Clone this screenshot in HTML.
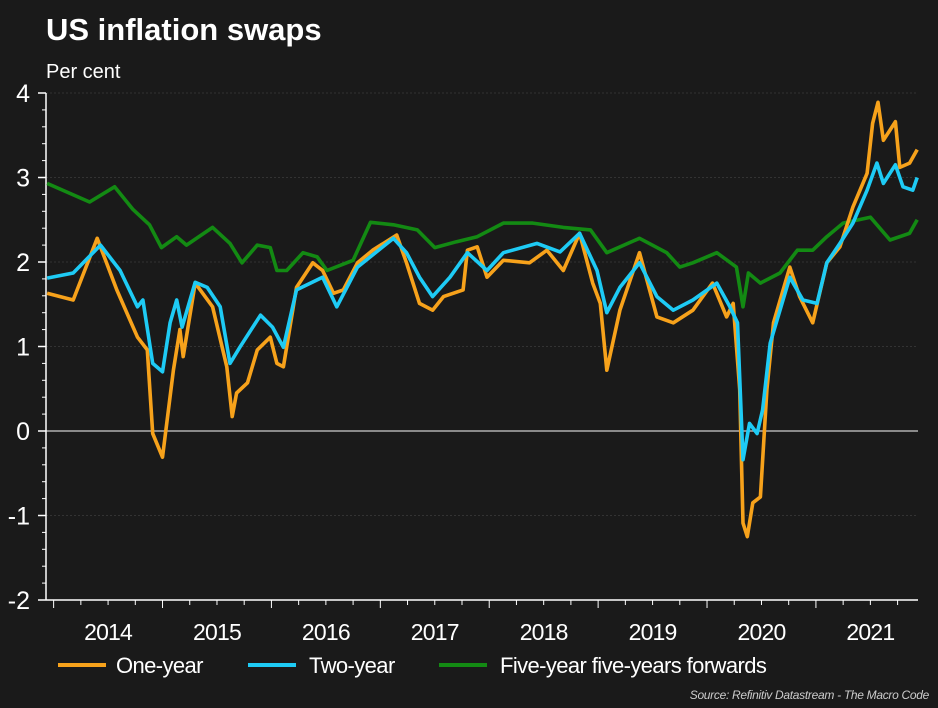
<!DOCTYPE html>
<html><head><meta charset="utf-8">
<style>
html,body{margin:0;padding:0;background:#1a1a1a;}
svg{display:block;font-family:"Liberation Sans",sans-serif;}
</style></head>
<body>
<svg id="chart" width="938" height="708" viewBox="0 0 938 708">
<rect x="0" y="0" width="938" height="708" fill="#1a1a1a"/>
<text x="46" y="40" fill="#fff" font-size="31" font-weight="bold">US inflation swaps</text>
<text x="46" y="78" fill="#fff" font-size="20">Per cent</text>
<g id="grid"></g><g id="axes"></g><g id="series"></g>
<g>
<line x1="58" y1="665" x2="106" y2="665" stroke="#f7a21b" stroke-width="4"/>
<text x="116" y="673" fill="#fff" font-size="22" letter-spacing="-0.6">One-year</text>
<line x1="248" y1="665" x2="296" y2="665" stroke="#1ecbf5" stroke-width="4"/>
<text x="309" y="673" fill="#fff" font-size="22" letter-spacing="-0.6">Two-year</text>
<line x1="439" y1="665" x2="487" y2="665" stroke="#138a13" stroke-width="4"/>
<text x="500" y="673" fill="#fff" font-size="22" letter-spacing="-0.6">Five-year five-years forwards</text>
</g>
<text x="929" y="699" fill="#ccc" font-size="12" font-style="italic" text-anchor="end" letter-spacing="-0.3">Source: Refinitiv Datastream - The Macro Code</text>
</svg>
<script>
const oneYearDates=[2013.94,2014.18,2014.40,2014.58,2014.77,2014.86,2014.91,2015.00,2015.10,2015.16,2015.19,2015.30,2015.46,2015.59,2015.64,2015.68,2015.78,2015.87,2015.99,2016.05,2016.11,2016.23,2016.38,2016.47,2016.57,2016.66,2016.79,2016.93,2017.15,2017.24,2017.36,2017.48,2017.58,2017.76,2017.80,2017.89,2017.98,2018.13,2018.37,2018.53,2018.68,2018.83,2018.95,2019.02,2019.08,2019.20,2019.38,2019.54,2019.69,2019.87,2020.05,2020.18,2020.24,2020.30,2020.33,2020.37,2020.42,2020.49,2020.55,2020.61,2020.76,2020.85,2020.97,2021.10,2021.22,2021.34,2021.47,2021.52,2021.57,2021.62,2021.73,2021.77,2021.86,2021.93];
const oneYearValues=[1.63,1.55,2.28,1.67,1.11,0.96,-0.03,-0.31,0.72,1.2,0.88,1.75,1.47,0.76,0.17,0.45,0.57,0.96,1.11,0.8,0.76,1.7,1.99,1.9,1.63,1.67,1.99,2.14,2.32,1.99,1.51,1.43,1.59,1.67,2.14,2.18,1.82,2.02,1.99,2.14,1.9,2.34,1.75,1.51,0.72,1.43,2.11,1.35,1.28,1.43,1.75,1.35,1.51,0.49,-1.09,-1.25,-0.85,-0.78,0.49,1.28,1.94,1.59,1.28,1.99,2.18,2.65,3.05,3.64,3.89,3.44,3.66,3.12,3.17,3.33];
const twoYearDates=[2013.94,2014.18,2014.43,2014.61,2014.77,2014.82,2014.91,2015.00,2015.07,2015.13,2015.18,2015.30,2015.41,2015.53,2015.62,2015.71,2015.90,2016.01,2016.11,2016.23,2016.47,2016.60,2016.79,2017.12,2017.24,2017.36,2017.48,2017.64,2017.80,2017.98,2018.13,2018.44,2018.65,2018.83,2018.99,2019.08,2019.20,2019.38,2019.54,2019.69,2019.87,2020.09,2020.21,2020.28,2020.33,2020.39,2020.46,2020.51,2020.58,2020.76,2020.88,2021.01,2021.10,2021.22,2021.34,2021.47,2021.56,2021.62,2021.73,2021.80,2021.89,2021.93];
const twoYearValues=[1.81,1.87,2.2,1.9,1.47,1.55,0.8,0.7,1.28,1.55,1.23,1.76,1.7,1.47,0.8,0.99,1.37,1.23,0.99,1.67,1.82,1.47,1.94,2.28,2.11,1.82,1.59,1.82,2.11,1.9,2.11,2.22,2.12,2.34,1.9,1.4,1.7,1.99,1.59,1.43,1.55,1.75,1.47,1.28,-0.34,0.09,-0.03,0.25,1.04,1.82,1.55,1.51,1.99,2.22,2.46,2.85,3.17,2.93,3.15,2.89,2.85,3.0];
const fwdDates=[2013.94,2014.33,2014.56,2014.73,2014.88,2014.99,2015.13,2015.22,2015.46,2015.62,2015.73,2015.87,2015.99,2016.05,2016.14,2016.29,2016.42,2016.51,2016.75,2016.91,2017.12,2017.34,2017.50,2017.70,2017.89,2018.13,2018.40,2018.68,2018.93,2019.08,2019.38,2019.63,2019.75,2019.87,2020.09,2020.27,2020.33,2020.38,2020.49,2020.67,2020.83,2020.97,2021.10,2021.25,2021.50,2021.68,2021.86,2021.93];
const fwdValues=[2.93,2.71,2.89,2.62,2.44,2.17,2.30,2.20,2.41,2.22,1.99,2.20,2.17,1.90,1.90,2.11,2.06,1.90,2.02,2.47,2.44,2.38,2.17,2.24,2.30,2.46,2.46,2.41,2.38,2.11,2.28,2.11,1.94,1.99,2.11,1.94,1.47,1.87,1.75,1.87,2.14,2.14,2.30,2.46,2.53,2.26,2.34,2.50];
const yTicks=[4,3,2,1,0,-1,-2];
const yearLabels=["2014","2015","2016","2017","2018","2019","2020","2021"];

const NS="http://www.w3.org/2000/svg";
const X0=46,X1=918,D0=2013.93,PXY=108.9;
const Y0=93,Y1=600,VMAX=4,VMIN=-2;
function xs(d){return X0+(d-D0)*PXY;}
function ys(v){return Y0+(VMAX-v)/(VMAX-VMIN)*(Y1-Y0);}
function mk(tag,attrs,parent){const e=document.createElementNS(NS,tag);for(const k in attrs)e.setAttribute(k,attrs[k]);parent.appendChild(e);return e;}
const grid=document.getElementById('grid'),axes=document.getElementById('axes'),series=document.getElementById('series');

yTicks.forEach(v=>{
  if(v!==VMIN&&v!==0){
    const g=mk('line',{x1:X0,x2:X1,y1:ys(v),y2:ys(v),stroke:'#333',"stroke-width":1,"stroke-dasharray":"2,2"},grid);
    
    
  }
  const t=mk('line',{x1:X0-8,x2:X0,y1:ys(v),y2:ys(v),stroke:'#fff',"stroke-width":1.5},axes);
  
  
  const l=mk('text',{x:30,y:ys(v)+9,fill:'#fff',"font-size":25,"text-anchor":"end"},axes);
  l.textContent=String(v);
  
  
});
for(let v=VMIN;v<VMAX;v+=0.2){
  const m=mk('line',{x1:X0-4,x2:X0,y1:ys(v),y2:ys(v),stroke:'#fff',"stroke-width":1},axes);
  
  
}
const zl=mk('line',{x1:X0,x2:X1,y1:ys(0),y2:ys(0),stroke:'#b0b0b0',"stroke-width":1.5},axes);


const ya=mk('line',{x1:X0,x2:X0,y1:Y0,y2:Y1,stroke:'#fff',"stroke-width":1.5},axes);


const xa=mk('line',{x1:X0,x2:X1,y1:Y1,y2:Y1,stroke:'#fff',"stroke-width":1.5},axes);


for(let d=2014;d<2022;d+=0.25){
  const xt=mk('line',{x1:xs(d),x2:xs(d),y1:Y1,y2:Y1+(d%1===0?8:5),stroke:'#fff',"stroke-width":1},axes);
  
  
}
yearLabels.forEach(y=>{
  const t=mk('text',{x:xs(+y+0.5),y:640,fill:'#fff',"font-size":23,"text-anchor":"middle","letter-spacing":"-0.8"},axes);
  t.textContent=y;
  
  
});
function drawLine(dates,vals,color,name){
  const p=mk('path',{d:dates.map((d,i)=>(i?'L':'M')+xs(d).toFixed(1)+','+ys(vals[i]).toFixed(1)).join(''),fill:'none',stroke:color,"stroke-width":3.6,"stroke-linejoin":"round"},series);
  
  
}
drawLine(fwdDates,fwdValues,'#138a13','five-year-forward-line');
drawLine(oneYearDates,oneYearValues,'#f7a21b','one-year-line');
drawLine(twoYearDates,twoYearValues,'#1ecbf5','two-year-line');
</script>
</body></html>
